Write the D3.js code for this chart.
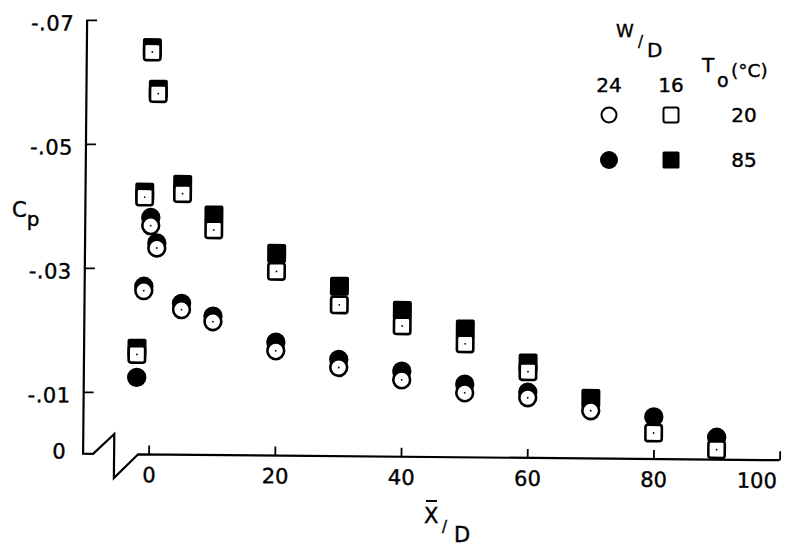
<!DOCTYPE html>
<html>
<head>
<meta charset="utf-8">
<script src="https://cdn.jsdelivr.net/npm/d3@7"></script>
<style>
body { margin: 0; background: #fff; }
text { font-family: "DejaVu Sans", sans-serif; fill: #000; stroke: #000; stroke-width: 0.4px; }
</style>
</head>
<body>
<div id="chart"></div>
<script>
var w = 789;
var h = 550;

// axis ticks
var xTicks = [0, 20, 40, 60, 80, 100];
var yTicks = [-0.07, -0.05, -0.03, -0.01, 0];
var yTickLabels = ["-.07", "-.05", "-.03", "-.01", "0"];

// W/D = 24, To = 20 C (open circles)
var openCircleX  = [-1, 0, 1, 5, 10, 20, 30, 40, 50, 60, 70];
var openCircleCp = [-0.0264, -0.0369, -0.0333, -0.0234, -0.0215, -0.0169, -0.0143, -0.0124, -0.0104, -0.0097, -0.0077];

// W/D = 24, To = 85 C (filled circles)
var fillCircleX  = [-2, -1, 0, 1, 5, 10, 20, 30, 40, 50, 60, 80, 90];
var fillCircleCp = [-0.0124, -0.0271, -0.0382, -0.0341, -0.0244, -0.0224, -0.0183, -0.0156, -0.0138, -0.0118, -0.0106, -0.0068, -0.0036];

// W/D = 16, To = 20 C (open squares)
var openSquareX  = [-2, -1, 0, 1, 5, 10, 20, 30, 40, 50, 60, 80, 90];
var openSquareCp = [-0.0161, -0.0415, -0.0649, -0.0582, -0.0421, -0.0363, -0.0297, -0.0244, -0.0211, -0.0183, -0.0139, -0.0042, -0.0016];

// W/D = 16, To = 85 C (filled squares)
var fillSquareX  = [-2, -1, 0, 1, 5, 10, 20, 30, 40, 50, 60, 70];
var fillSquareCp = [-0.0171, -0.0423, -0.0656, -0.0589, -0.0436, -0.0387, -0.0326, -0.0274, -0.0236, -0.0207, -0.0153, -0.0097];

var wdLabels = ["24", "16"];
var tempLabels = ["20", "85"];

var svg = d3.select("#chart")
    .append("svg")
    .attr("width", w)
    .attr("height", h);

var xScale = d3.scaleLinear()
    .domain([0, 100])
    .range([150.5, 781.5]);

var yScale = d3.scaleLinear()
    .domain([0, -0.07])
    .range([457, 23]);

// the scanned figure sits slightly rotated
var g = svg.append("g")
    .attr("transform", "rotate(0.53,432,250)");

var y0 = yScale(0);
var axisX = 85;

// axis lines with the break at the origin
g.append("path")
    .attr("d", "M" + axisX + "," + yScale(-0.07) + "V" + y0 + "H" + (axisX + 10) +
        "L" + (axisX + 31) + "," + (y0 - 20) + "V" + (y0 + 24) +
        "L" + (axisX + 55) + "," + y0 + "H" + xScale(100))
    .attr("fill", "none")
    .attr("stroke", "#000")
    .attr("stroke-width", 2.2)
    .attr("stroke-linejoin", "miter");

var xAxis = d3.axisBottom(xScale)
    .tickValues(xTicks)
    .tickSizeInner(-9)
    .tickSizeOuter(0)
    .tickPadding(13);

var gx = g.append("g")
    .attr("transform", "translate(0," + y0 + ")")
    .call(xAxis);
gx.select(".domain").remove();
gx.selectAll(".tick line").attr("stroke", "#000").attr("stroke-width", 1.8);
gx.selectAll(".tick text")
    .style("font-size", "21px")
    .attr("fill", "#000");
gx.selectAll(".tick text").filter(function(d) { return d == 100; })
    .attr("text-anchor", "end")
    .attr("x", -3);

var yAxis = d3.axisLeft(yScale)
    .tickValues(yTicks)
    .tickFormat(function(d, i) { return yTickLabels[i]; })
    .tickSizeInner(-10)
    .tickSizeOuter(0)
    .tickPadding(13);

var gy = g.append("g")
    .attr("transform", "translate(" + axisX + ",0)")
    .call(yAxis);
gy.select(".domain").remove();
gy.selectAll(".tick line").attr("stroke", "#000").attr("stroke-width", 1.8);
gy.selectAll(".tick line").filter(function(d) { return d == 0; }).remove();
gy.selectAll(".tick text")
    .style("font-size", "21px")
    .style("letter-spacing", "0.5px")
    .attr("fill", "#000")
    .attr("dy", "0.5em");
gy.selectAll(".tick text").filter(function(d) { return d == 0; })
    .attr("x", -17)
    .attr("y", -6);

function pairs(xs, ys) {
    return xs.map(function(d, i) { return {x: d, cp: ys[i]}; });
}

var sq = 19;

// filled circles
g.selectAll(".fc")
    .data(pairs(fillCircleX, fillCircleCp))
    .enter().append("circle")
    .attr("class", "fc")
    .attr("cx", function(d) { return xScale(d.x); })
    .attr("cy", function(d) { return yScale(d.cp); })
    .attr("r", 9.7)
    .attr("fill", "#000");

// filled squares
g.selectAll(".fs")
    .data(pairs(fillSquareX, fillSquareCp))
    .enter().append("rect")
    .attr("class", "fs")
    .attr("x", function(d) { return xScale(d.x) - sq / 2; })
    .attr("y", function(d) { return yScale(d.cp) - sq / 2; })
    .attr("width", sq)
    .attr("height", sq)
    .attr("rx", 2)
    .attr("fill", "#000");

// open squares
var os = g.selectAll(".os")
    .data(pairs(openSquareX, openSquareCp))
    .enter().append("g")
    .attr("class", "os")
    .attr("transform", function(d) { return "translate(" + xScale(d.x) + "," + yScale(d.cp) + ")"; });
os.append("rect")
    .attr("x", -(sq - 2.6) / 2)
    .attr("y", -(sq - 2.6) / 2)
    .attr("width", sq - 2.6)
    .attr("height", sq - 2.6)
    .attr("rx", 2.5)
    .attr("fill", "#fff")
    .attr("stroke", "#000")
    .attr("stroke-width", 2.6);
os.append("circle").attr("r", 0.9).attr("fill", "#000");

// open circles
var oc = g.selectAll(".oc")
    .data(pairs(openCircleX, openCircleCp))
    .enter().append("g")
    .attr("class", "oc")
    .attr("transform", function(d) { return "translate(" + xScale(d.x) + "," + yScale(d.cp) + ")"; });
oc.append("circle")
    .attr("r", 8.4)
    .attr("fill", "#fff")
    .attr("stroke", "#000")
    .attr("stroke-width", 2.6);
oc.append("circle").attr("r", 0.9).attr("fill", "#000");

// axis titles
var cp = svg.append("text")
    .attr("x", 12)
    .attr("y", 217)
    .style("font-size", "21px");
cp.append("tspan").text("C");
cp.append("tspan").attr("dy", 9).style("font-size", "20px").text("p");

svg.append("text").attr("x", 424).attr("y", 523).style("font-size", "21px").text("X");
svg.append("line")
    .attr("x1", 426).attr("x2", 437)
    .attr("y1", 501).attr("y2", 501)
    .attr("stroke", "#000").attr("stroke-width", 2);
svg.append("text").attr("x", 442).attr("y", 532).style("font-size", "15px").text("/");
svg.append("text").attr("x", 454).attr("y", 542).style("font-size", "21px").text("D");

// legend
var leg = svg.append("g");
leg.append("text").attr("x", 616).attr("y", 37).style("font-size", "18px").text("W");
leg.append("text").attr("x", 638).attr("y", 47).style("font-size", "15px").text("/");
leg.append("text").attr("x", 647).attr("y", 57).style("font-size", "20px").text("D");

var legCol = [609, 671];
var legRow = [115, 160];

leg.selectAll(".wd")
    .data(wdLabels)
    .enter().append("text")
    .attr("x", function(d, i) { return legCol[i]; })
    .attr("y", 92)
    .attr("text-anchor", "middle")
    .style("font-size", "20px")
    .text(function(d) { return d; });

leg.append("text").attr("x", 702).attr("y", 72).style("font-size", "20px").text("T");
leg.append("text").attr("x", 717).attr("y", 87).style("font-size", "19px").text("o");
leg.append("text").attr("x", 731).attr("y", 77).style("font-size", "18.5px").text("(\u00b0C)");

leg.selectAll(".tl")
    .data(tempLabels)
    .enter().append("text")
    .attr("x", 744)
    .attr("y", function(d, i) { return legRow[i] + 7; })
    .attr("text-anchor", "middle")
    .style("font-size", "20px")
    .text(function(d) { return d; });

leg.append("circle").attr("cx", legCol[0]).attr("cy", legRow[0]).attr("r", 7.5)
    .attr("fill", "#fff").attr("stroke", "#000").attr("stroke-width", 2);
leg.append("rect").attr("x", legCol[1] - 7.5).attr("y", legRow[0] - 7.5).attr("width", 15).attr("height", 15)
    .attr("rx", 2).attr("fill", "#fff").attr("stroke", "#000").attr("stroke-width", 2);
leg.append("circle").attr("cx", legCol[0]).attr("cy", legRow[1]).attr("r", 9)
    .attr("fill", "#000");
leg.append("rect").attr("x", legCol[1] - 8.5).attr("y", legRow[1] - 8.5).attr("width", 17).attr("height", 17)
    .attr("rx", 1.5).attr("fill", "#000");
</script>
</body>
</html>
